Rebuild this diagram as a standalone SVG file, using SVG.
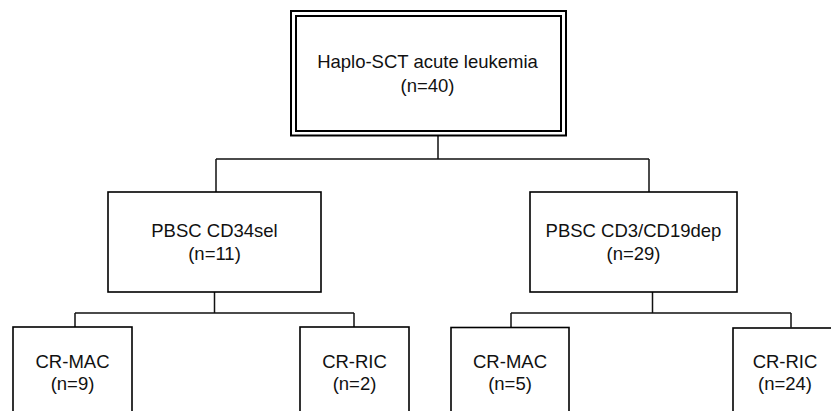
<svg xmlns="http://www.w3.org/2000/svg" width="831" height="411" viewBox="0 0 831 411">
<style>
.box{fill:#fff;stroke:#000;stroke-width:1.6}
.dbl{fill:none;stroke:#000;stroke-width:2}
.con{fill:none;stroke:#111;stroke-width:1.5}
text{font-family:"Liberation Sans",Arial,sans-serif;font-size:18.5px;fill:#111;text-anchor:middle}
</style>
<rect width="831" height="411" fill="#fff"/>
<g id="connectors">
<path class="con" d="M438,135.5V159M216,159H649M216,159V192M649,159V192"/>
<path class="con" d="M214.5,292V313M75,313H354M75,313V327M354,313V327"/>
<path class="con" d="M652.5,292V313M511,313H791M511,313V327.5M791,313V327.5"/>
</g>
<g id="root">
<rect class="dbl" x="291" y="11" width="275" height="124.5"/>
<rect class="dbl" x="296" y="16" width="265" height="115"/>
<text x="427.5" y="68">Haplo-SCT acute leukemia</text>
<text x="427.5" y="91.5">(n=40)</text>
</g>
<g id="cd34">
<rect class="box" x="108" y="192" width="213" height="100"/>
<text x="214.5" y="237">PBSC CD34sel</text>
<text x="214.5" y="260">(n=11)</text>
</g>
<g id="cd3">
<rect class="box" x="530" y="192" width="207" height="100"/>
<text x="633.5" y="237">PBSC CD3/CD19dep</text>
<text x="633.5" y="260">(n=29)</text>
</g>
<g id="mac1">
<rect class="box" x="13" y="327" width="119" height="100"/>
<text x="72.5" y="368">CR-MAC</text>
<text x="72.5" y="390">(n=9)</text>
</g>
<g id="ric1">
<rect class="box" x="300" y="327" width="109" height="100"/>
<text x="354.5" y="368">CR-RIC</text>
<text x="354.5" y="390">(n=2)</text>
</g>
<g id="mac2">
<rect class="box" x="451" y="327.5" width="118" height="100"/>
<text x="510" y="368">CR-MAC</text>
<text x="510" y="390">(n=5)</text>
</g>
<g id="ric2">
<rect class="box" x="733" y="328" width="109" height="100"/>
<text x="785" y="368">CR-RIC</text>
<text x="785" y="390">(n=24)</text>
</g>
</svg>
